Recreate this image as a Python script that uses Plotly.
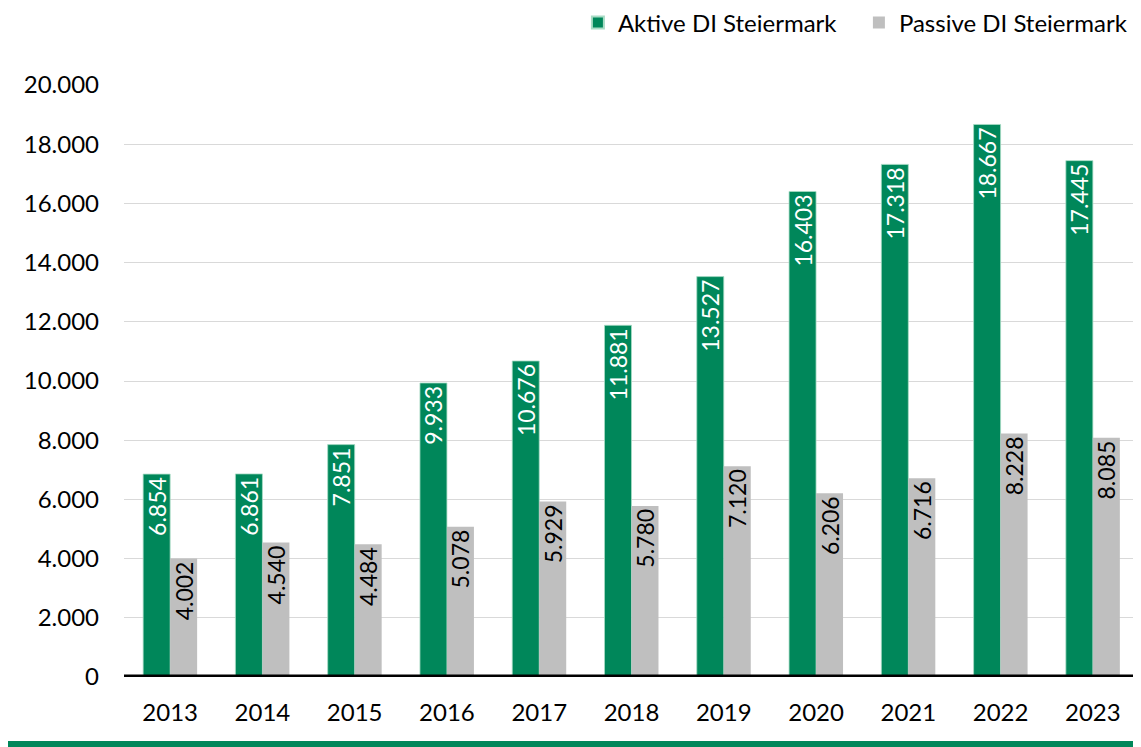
import plotly.graph_objects as go

years = ["2013", "2014", "2015", "2016", "2017", "2018", "2019", "2020", "2021", "2022", "2023"]
aktive = [6854, 6861, 7851, 9933, 10676, 11881, 13527, 16403, 17318, 18667, 17445]
passive = [4002, 4540, 4484, 5078, 5929, 5780, 7120, 6206, 6716, 8228, 8085]
tick_vals = [0, 2000, 4000, 6000, 8000, 10000, 12000, 14000, 16000, 18000, 20000]

GREEN = "#00875A"
GREY = "#BFBFBF"
FONT = "Lato, 'Open Sans', sans-serif"

fig = go.Figure()
fig.add_trace(go.Bar(
    x=years, y=aktive, name="Aktive DI Steiermark",
    marker=dict(color=GREEN, line=dict(color="#A8DCC5", width=0.8)),
    texttemplate="%{y:,.0f}", textposition="inside", textangle=-90,
    insidetextanchor="end", insidetextfont=dict(color="white", size=23, family=FONT),
))
fig.add_trace(go.Bar(
    x=years, y=passive, name="Passive DI Steiermark",
    marker=dict(color=GREY, line=dict(width=0)),
    texttemplate="%{y:,.0f}", textposition="inside", textangle=-90,
    insidetextanchor="end", insidetextfont=dict(color="black", size=23, family=FONT),
))

fig.update_layout(
    width=1133, height=739,
    separators=",.",
    barmode="group", bargap=0.415, bargroupgap=0,
    plot_bgcolor="white", paper_bgcolor="white",
    font=dict(family=FONT, size=24, color="black"),
    margin=dict(l=116, r=2, t=77, b=70, autoexpand=False),
    showlegend=True,
    legend=dict(orientation="h", xref="container", yref="container",
                x=0.503, xanchor="left", y=0.9797, yanchor="middle",
                font=dict(size=24), traceorder="normal", itemsizing="constant",
                entrywidth=236, bgcolor="rgba(0,0,0,0)"),
    uniformtext=dict(mode="show", minsize=23),
    xaxis=dict(showline=False, ticks="", tickfont=dict(size=24), showgrid=False,
               ticklabelstandoff=19, automargin=False),
    yaxis=dict(range=[0, 20000], tickvals=tick_vals, tickformat=",.0f",
               showgrid=True, gridcolor="#D9D9D9", gridwidth=1,
               zeroline=False, showline=False, ticks="", tickfont=dict(size=24),
               ticklabelstandoff=24, automargin=False),
    shapes=[
        dict(type="line", xref="paper", yref="y", x0=0, x1=1, y0=0, y1=0,
             line=dict(color="black", width=5)),
        dict(type="rect", xref="paper", yref="paper", x0=-0.1143, x1=1.01, y0=-0.1182, y1=-0.1081,
             fillcolor=GREEN, line=dict(width=0)),
    ],
)

fig.write_html("out.html")
